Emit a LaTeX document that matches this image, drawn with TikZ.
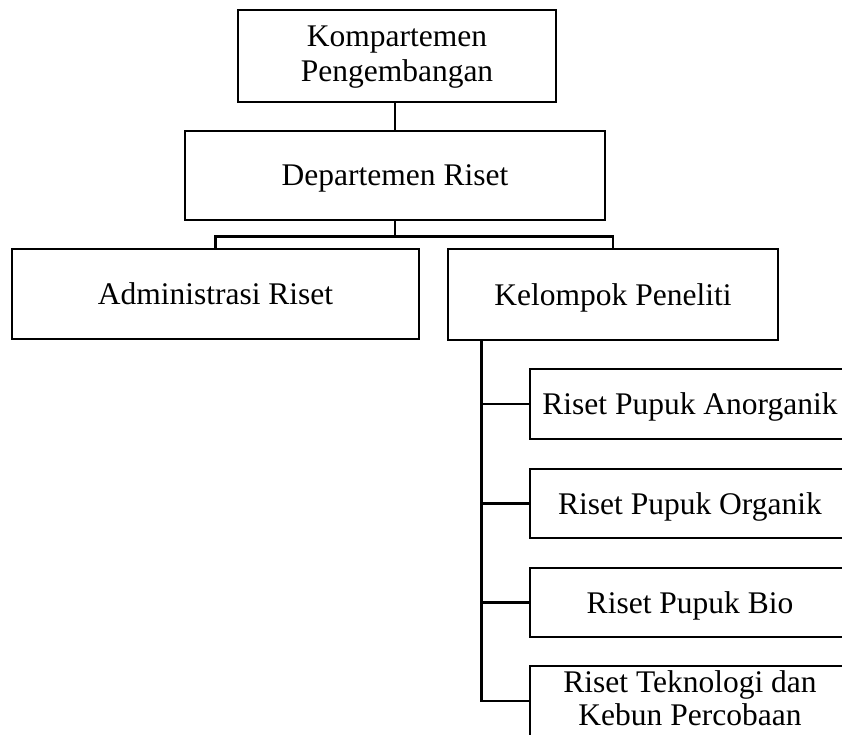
\documentclass[tikz,border=0pt]{standalone}
\usepackage{fontspec}
\setmainfont{Liberation Serif}
\begin{document}
\begin{tikzpicture}[x=1pt,y=-1pt,
  box/.style={draw=black,line width=2.8pt,rectangle,inner sep=0pt,align=center,
    text depth=0pt,font=\fontsize{31.5}{35}\selectfont},
  conn/.style={draw=black,line width=2.8pt}]
\useasboundingbox (0,0) rectangle (842,734);
\clip (0,0) rectangle (842,734);
\fill[white] (0,0) rectangle (842,734);
\node[box,minimum width=318pt,minimum height=92pt,text depth=4pt] (k) at (397,56) {Kompartemen\\Pengembangan};
\node[box,minimum width=420pt,minimum height=89pt] (d) at (395,175.5) {Departemen Riset};
\node[box,minimum width=407pt,minimum height=90pt] (a) at (215.5,294) {Administrasi Riset};
\node[box,minimum width=330pt,minimum height=91pt] (kp) at (613,294.5) {Kelompok Peneliti};
\node[box,minimum width=320pt,minimum height=70pt] (r1) at (690,404) {Riset Pupuk Anorganik};
\node[box,minimum width=320pt,minimum height=69pt] (r2) at (690,503.5) {Riset Pupuk Organik};
\node[box,minimum width=320pt,minimum height=69pt] (r3) at (690,602.5) {Riset Pupuk Bio};
\node[box,minimum width=320pt,minimum height=70pt,text depth=6pt,font=\fontsize{31.5}{33}\selectfont] (r4) at (690,701) {Riset Teknologi dan\\Kebun Percobaan};
\coordinate (j) at ([yshift=-15pt]d.south);
\coordinate (sp) at ([xshift=35pt]kp.south west);
\draw[conn] (d.north) -- (d.north |- k.south);
\draw[conn] (d.south) -- (j);
\draw[conn] (a.north) |- (j) -| (kp.north);
\draw[conn] (sp) |- (r4.west);
\draw[conn] (sp |- r1.west) -- (r1.west);
\draw[conn] (sp |- r2.west) -- (r2.west);
\draw[conn] (sp |- r3.west) -- (r3.west);
\end{tikzpicture}
\end{document}
